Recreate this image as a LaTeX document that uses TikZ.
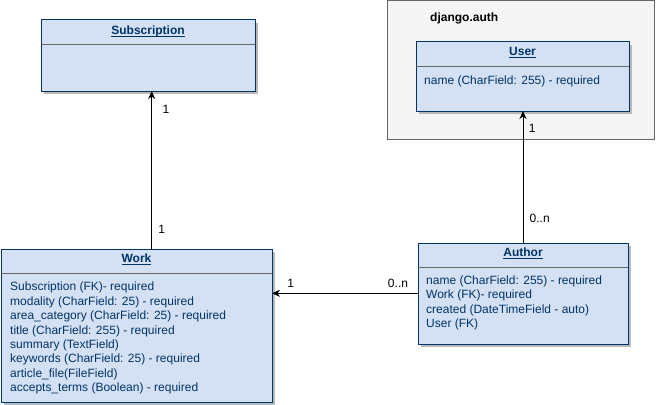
\documentclass[tikz,border=0pt]{standalone}
\usepackage{fontspec}
\setmainfont{Liberation Sans}
\usepackage{xcolor}
\usetikzlibrary{
    arrows.meta,
    shadows,
    calc,
    positioning
}
\definecolor{classfill}{HTML}{D4E1F5}
\definecolor{classline}{HTML}{003366}
\definecolor{groupfill}{HTML}{F5F5F5}
\definecolor{groupline}{HTML}{666666}
\tikzset{
    classbox/.style={draw=classline, fill=classfill, line width=1pt, anchor=north west,
        inner sep=0pt, outer sep=0pt,
        drop shadow={shadow xshift=3pt, shadow yshift=-3pt, fill=black!28, opacity=1}},
    groupbox/.style={draw=groupline, fill=groupfill, line width=1pt, anchor=north west,
        inner sep=0pt, outer sep=0pt},
    classname/.style={anchor=base, text=classline, font=\fontsize{12}{14.4}\selectfont\bfseries},
    classfields/.style={anchor=north west, inner sep=0pt, align=left, text=classline,
        font=\fontsize{12}{14.4}\selectfont},
    divider/.style={draw=black!60, line width=1pt},
    relation/.style={line width=1pt, -{Stealth[length=8pt, width=7pt, inset=2.5pt]}},
    mult/.style={font=\fontsize{12}{14.4}\selectfont, inner sep=0pt}
}
\newcommand{\classtitle}[1]{\underline{\smash{#1}}}
\begin{document}
\begin{tikzpicture}[x=1pt, y=-1pt]
    \useasboundingbox (0,0) rectangle (658,404);
    % django.auth group
    \node[groupbox, minimum width=267, minimum height=138] (djangoauth) at (387,1) {};
    \node[anchor=base west, inner sep=0pt, font=\fontsize{12}{14.4}\selectfont\bfseries] (djangoauthname) at (430,22) {django.auth};
    % Subscription
    \node[classbox, minimum width=214, minimum height=71] (subscription) at (41,20) {};
    \node[classname] (subscriptionname) at ($(subscription.north)+(0,14.5)$) {\classtitle{Subscription}};
    \draw[divider] ($(subscription.north west)+(0,25)$) -- ($(subscription.north east)+(0,25)$);
    % Work
    \node[classbox, minimum width=271, minimum height=153] (work) at (1,249) {};
    \node[classname] (workname) at ($(work.north)+(0,13.5)$) {\classtitle{Work}};
    \draw[divider] ($(work.north west)+(0,24)$) -- ($(work.north east)+(0,24)$);
    \node[classfields] (workfields) at ($(work.north west)+(9,33)$) {Subscription (FK)- required\\
        modality (CharField: 25) - required\\
        area\_category (CharField: 25) - required\\
        title (CharField: 255) - required\\
        summary (TextField)\\
        keywords (CharField: 25) - required\\
        article\_file(FileField)\\
        accepts\_terms (Boolean) - required};
    % Author
    \node[classbox, minimum width=210, minimum height=101] (author) at (418,243) {};
    \node[classname] (authorname) at ($(author.north)+(0,13.5)$) {\classtitle{Author}};
    \draw[divider] ($(author.north west)+(0,24)$) -- ($(author.north east)+(0,24)$);
    \node[classfields] (authorfields) at ($(author.north west)+(8,32.5)$) {name (CharField: 255) - required\\
        Work (FK)- required\\
        created (DateTimeField - auto)\\
        User (FK)};
    % User
    \node[classbox, minimum width=213, minimum height=69] (user) at (416,42) {};
    \node[classname] (username) at ($(user.north)+(0,13.5)$) {\classtitle{User}};
    \draw[divider] ($(user.north west)+(0,24)$) -- ($(user.north east)+(0,24)$);
    \node[classfields] (userfields) at ($(user.north west)+(8,33.5)$) {name (CharField: 255) - required};
    % relations
    \draw[relation] ([xshift=15.2pt]work.north) -- ([xshift=15.2pt]work.north |- subscription.south);
    \draw[relation] (author.west |- 0,293.3) -- (work.east |- 0,293.3);
    \draw[relation] (author.north) -- (author.north |- user.south);
    % multiplicities
    \node[mult] (subscriptionmult) at (166,109.3) {1};
    \node[mult] (workmultup) at (161.7,229) {1};
    \node[mult] (workmultright) at (290.7,283.3) {1};
    \node[mult] (authormultleft) at (398,283) {0..n};
    \node[mult] (authormultup) at (539.7,218.3) {0..n};
    \node[mult] (usermult) at (532.3,128.3) {1};
\end{tikzpicture}
\end{document}
